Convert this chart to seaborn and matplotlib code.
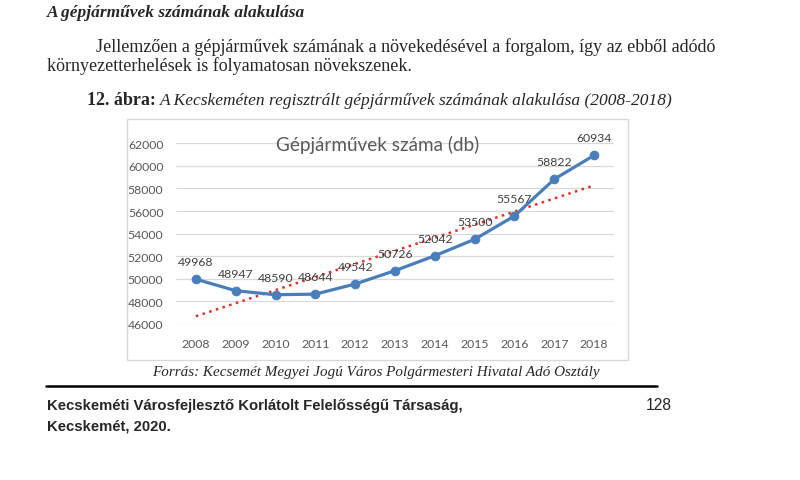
import matplotlib
matplotlib.use("Agg")
import matplotlib.pyplot as plt
import seaborn as sns
import numpy as np
import pandas as pd
from matplotlib.patches import Rectangle
from matplotlib.lines import Line2D

years = [2008, 2009, 2010, 2011, 2012, 2013, 2014, 2015, 2016, 2017, 2018]
vehicles = [49968, 48947, 48590, 48644, 49542, 50726, 52042, 53500, 55567, 58822, 60934]
y_ticks = [46000, 48000, 50000, 52000, 54000, 56000, 58000, 60000, 62000]

chart_title = "Gépjárművek száma (db)"
heading = "A gépjárművek számának alakulása"
para1 = "Jellemzően a gépjárművek számának a növekedésével a forgalom, így az ebből adódó"
para2 = "környezetterhelések is folyamatosan növekszenek."
cap_bold = "12. ábra: "
cap_ital = "A Kecskeméten regisztrált gépjárművek számának alakulása (2008-2018)"
source = "Forrás: Kecsemét Megyei Jogú Város Polgármesteri Hivatal Adó Osztály"
foot1 = "Kecskeméti Városfejlesztő Korlátolt Felelősségű Társaság,"
foot2 = "Kecskemét, 2020."
page_no = "128"

df = pd.DataFrame({"year": years, "db": vehicles})

sns.set_theme(style="white")
plt.rcParams['font.family'] = ['DejaVu Sans']

W, H = 800, 481
fig = plt.figure(figsize=(8, 4.81), dpi=100)
fig.patch.set_facecolor("white")

def fx(x):
    return x / W

def fy(y):
    return 1 - y / H

renderer = fig.canvas.get_renderer()

def fit_text(x, y, s, target_w, fs0=12, **kw):
    t = fig.text(fx(x), fy(y), s, fontsize=fs0, va="center", **kw)
    bb = t.get_window_extent(renderer=renderer)
    t.set_fontsize(fs0 * target_w / bb.width)
    return t

serif = "Liberation Serif"
sans = "Liberation Sans"

fit_text(47, 13, heading, 257, family=serif, weight="bold", style="italic")
tp = fit_text(96, 47, para1, 620, family=serif)
t2 = fig.text(fx(47), fy(66), para2, family=serif, va="center", fontsize=tp.get_fontsize())

tb = fig.text(fx(87), fy(101), cap_bold, family=serif, weight="bold", va="center",
              fontsize=tp.get_fontsize())
bbw = tb.get_window_extent(renderer=renderer).width
fit_text(87 + bbw, 101, cap_ital, 672 - 87 - bbw, family=serif, style="italic")

fit_text(152, 373, source, 445, family=serif, style="italic")

fig.add_artist(Line2D([fx(46), fx(657)], [fy(387), fy(387)], color="black", lw=1.8))

tf = fit_text(47, 406, foot1, 414, family=sans, weight="bold")
fig.text(fx(47), fy(427), foot2, family=sans, weight="bold", va="center", fontsize=tf.get_fontsize())
fig.text(fx(672), fy(406), page_no, family=sans, va="center", ha="right", fontsize=tf.get_fontsize() * 1.05)

# chart border
fig.add_artist(Rectangle((fx(127), fy(361)), fx(628) - fx(127), fy(120) - fy(361),
                         transform=fig.transFigure, fill=False, edgecolor="#d9d9d9", lw=1.0))

ax = fig.add_axes([fx(176), fy(325), fx(614) - fx(176), fy(144.3) - fy(325)])
ax.set_facecolor("none")

chart_font = "Lato"
gray = "#595959"
blue = "#4a7ebb"
fs_lab = 8.8

sns.regplot(data=df, x="year", y="db", ax=ax, scatter=False, ci=None, truncate=True,
            line_kws=dict(color="#e0302a", lw=1.8, ls=(0, (1, 1.8))))
sns.lineplot(data=df, x="year", y="db", ax=ax, color=blue, lw=2.3, marker="o",
             markersize=6.2, markeredgecolor=blue, markerfacecolor=blue)

for yr, v in zip(years, vehicles):
    ax.annotate(f"{v}", (yr, v), xytext=(0, 12.5), textcoords="offset points",
                ha="center", va="center", fontsize=fs_lab, color="#404040", family=chart_font)

ax.set_xlim(years[0] - 0.5, years[-1] + 0.5)
ax.set_ylim(y_ticks[0], y_ticks[-1])
ax.set_yticks(y_ticks)
ax.set_xticks(years)
ax.set_yticklabels([str(v) for v in y_ticks], family=chart_font, fontsize=fs_lab, color=gray)
ax.set_xticklabels([str(v) for v in years], family=chart_font, fontsize=fs_lab, color=gray)
ax.tick_params(axis="both", length=0)
ax.tick_params(axis="y", pad=9)
ax.tick_params(axis="x", pad=10)
ax.grid(axis="y", color="#d9d9d9", lw=0.9)
ax.set_axisbelow(True)
for s in ax.spines.values():
    s.set_visible(False)
ax.set_xlabel("")
ax.set_ylabel("")

fig.text(fx(378), fy(145), chart_title, ha="center", va="center", fontsize=13.6,
         color=gray, family=chart_font)

fig.savefig("out.png", dpi=100, facecolor="white")
